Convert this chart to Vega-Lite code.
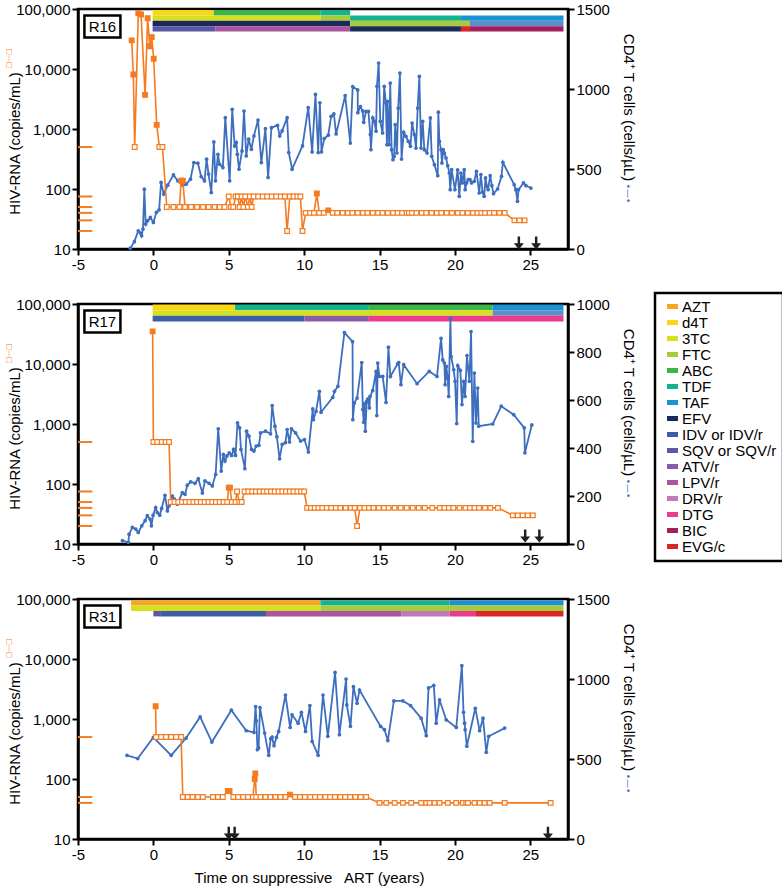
{
"$schema":"https://vega.github.io/schema/vega-lite/v6.json",
"padding":{"left":2,"top":0,"right":5,"bottom":2},
"spacing":55,
"bounds":"flush",
"config":{"font":"Liberation Sans","view":{"stroke":"black","strokeWidth":2.5},
"axis":{"domainColor":"black","domainWidth":2.5,"tickColor":"black","tickWidth":2,"tickSize":6,"labelFont":"Liberation Sans","labelFontSize":15,"labelColor":"black","titleFont":"Liberation Sans","titleFontSize":15,"titleFontWeight":"normal","titleColor":"black","grid":false,"labelPadding":2,"labelOverlap":false},
"legend":{"strokeWidth":2.5}},
"datasets":{
"hiv16":[{"t":-1.44,"v":30000,"s":"F"},{"t":-1.33,"v":8100,"s":"F"},{"t":-1.24,"v":500,"s":"O"},{"t":-1.0,"v":85000,"s":"F"},{"t":-0.82,"v":81000,"s":"F"},{"t":-0.55,"v":3700,"s":"F"},{"t":-0.38,"v":70000,"s":"F"},{"t":-0.24,"v":24000,"s":"F"},{"t":-0.11,"v":34000,"s":"F"},{"t":0.02,"v":14800,"s":"F"},{"t":0.22,"v":1170,"s":"F"},{"t":0.4,"v":500,"s":"O"},{"t":0.6,"v":500,"s":"O"},{"t":0.89,"v":50,"s":"O"},{"t":1.33,"v":50,"s":"O"},{"t":1.73,"v":50,"s":"O"},{"t":1.84,"v":138,"s":"F"},{"t":1.95,"v":138,"s":"F"},{"t":2.1,"v":50,"s":"O"},{"t":2.5,"v":50,"s":"O"},{"t":2.9,"v":50,"s":"O"},{"t":3.3,"v":50,"s":"O"},{"t":3.66,"v":50,"s":"O"},{"t":4.06,"v":50,"s":"O"},{"t":4.4,"v":50,"s":"O"},{"t":4.72,"v":50,"s":"O"},{"t":5.0,"v":75,"s":"O"},{"t":5.15,"v":50,"s":"O"},{"t":5.3,"v":50,"s":"O"},{"t":5.45,"v":75,"s":"O"},{"t":5.6,"v":75,"s":"O"},{"t":5.72,"v":50,"s":"O"},{"t":5.85,"v":75,"s":"O"},{"t":5.97,"v":50,"s":"O"},{"t":6.1,"v":75,"s":"O"},{"t":6.27,"v":50,"s":"O"},{"t":6.4,"v":75,"s":"O"},{"t":6.52,"v":50,"s":"O"},{"t":6.65,"v":75,"s":"O"},{"t":6.95,"v":75,"s":"O"},{"t":7.25,"v":75,"s":"O"},{"t":7.55,"v":75,"s":"O"},{"t":7.85,"v":75,"s":"O"},{"t":8.15,"v":75,"s":"O"},{"t":8.45,"v":75,"s":"O"},{"t":8.72,"v":75,"s":"O"},{"t":8.87,"v":20,"s":"O"},{"t":9.05,"v":75,"s":"O"},{"t":9.3,"v":75,"s":"O"},{"t":9.55,"v":75,"s":"O"},{"t":9.75,"v":75,"s":"O"},{"t":9.89,"v":20,"s":"O"},{"t":10.1,"v":40,"s":"O"},{"t":10.4,"v":40,"s":"O"},{"t":10.65,"v":40,"s":"O"},{"t":10.84,"v":84,"s":"F"},{"t":11.0,"v":40,"s":"O"},{"t":11.3,"v":40,"s":"O"},{"t":11.6,"v":44,"s":"F"},{"t":11.9,"v":40,"s":"O"},{"t":12.2,"v":40,"s":"O"},{"t":12.55,"v":40,"s":"O"},{"t":12.9,"v":40,"s":"O"},{"t":13.2,"v":40,"s":"O"},{"t":13.55,"v":40,"s":"O"},{"t":13.9,"v":40,"s":"O"},{"t":14.2,"v":40,"s":"O"},{"t":14.55,"v":40,"s":"O"},{"t":14.9,"v":40,"s":"O"},{"t":15.2,"v":40,"s":"O"},{"t":15.55,"v":40,"s":"O"},{"t":15.9,"v":40,"s":"O"},{"t":16.2,"v":40,"s":"O"},{"t":16.5,"v":40,"s":"O"},{"t":16.8,"v":40,"s":"O"},{"t":16.95,"v":40,"s":"O"},{"t":17.15,"v":40,"s":"O"},{"t":17.45,"v":40,"s":"O"},{"t":17.8,"v":40,"s":"O"},{"t":18.1,"v":40,"s":"O"},{"t":18.45,"v":40,"s":"O"},{"t":18.8,"v":40,"s":"O"},{"t":19.1,"v":40,"s":"O"},{"t":19.45,"v":40,"s":"O"},{"t":19.8,"v":40,"s":"O"},{"t":20.2,"v":40,"s":"O"},{"t":20.5,"v":40,"s":"O"},{"t":20.85,"v":40,"s":"O"},{"t":21.2,"v":40,"s":"O"},{"t":21.5,"v":40,"s":"O"},{"t":21.75,"v":40,"s":"O"},{"t":22.0,"v":40,"s":"O"},{"t":22.3,"v":40,"s":"O"},{"t":22.6,"v":40,"s":"O"},{"t":22.95,"v":40,"s":"O"},{"t":23.3,"v":40,"s":"O"},{"t":23.95,"v":30,"s":"O"},{"t":24.28,"v":30,"s":"O"},{"t":24.62,"v":30,"s":"O"}],
"cd416":[{"t":-1.53,"v":5},{"t":-1.26,"v":46},{"t":-1.0,"v":114},{"t":-0.86,"v":100},{"t":-0.78,"v":83},{"t":-0.69,"v":125},{"t":-0.6,"v":374},{"t":-0.51,"v":156},{"t":-0.38,"v":177},{"t":-0.2,"v":197},{"t":0.0,"v":166},{"t":0.2,"v":229},{"t":0.38,"v":245},{"t":0.51,"v":416},{"t":0.69,"v":343},{"t":0.95,"v":399},{"t":1.33,"v":463},{"t":1.62,"v":426},{"t":1.95,"v":399},{"t":2.17,"v":405},{"t":2.46,"v":436},{"t":2.68,"v":540},{"t":2.95,"v":536},{"t":3.17,"v":453},{"t":3.39,"v":426},{"t":3.53,"v":561},{"t":3.66,"v":468},{"t":3.84,"v":353},{"t":4.01,"v":669},{"t":4.12,"v":426},{"t":4.28,"v":592},{"t":4.39,"v":530},{"t":4.61,"v":509},{"t":4.77,"v":821},{"t":5.06,"v":426},{"t":5.23,"v":873},{"t":5.39,"v":644},{"t":5.5,"v":665},{"t":5.57,"v":592},{"t":5.68,"v":499},{"t":5.88,"v":613},{"t":6.01,"v":862},{"t":6.16,"v":582},{"t":6.32,"v":686},{"t":6.5,"v":623},{"t":6.67,"v":707},{"t":6.94,"v":806},{"t":7.16,"v":540},{"t":7.43,"v":752},{"t":7.61,"v":447},{"t":7.83,"v":758},{"t":8.23,"v":773},{"t":8.38,"v":707},{"t":8.54,"v":738},{"t":8.87,"v":821},{"t":8.98,"v":603},{"t":9.2,"v":499},{"t":9.89,"v":644},{"t":10.27,"v":883},{"t":10.53,"v":607},{"t":10.75,"v":966},{"t":10.93,"v":603},{"t":11.04,"v":914},{"t":11.15,"v":607},{"t":11.33,"v":690},{"t":11.6,"v":711},{"t":11.79,"v":829},{"t":11.97,"v":844},{"t":12.12,"v":719},{"t":12.72,"v":958},{"t":13.06,"v":662},{"t":13.22,"v":1015},{"t":13.55,"v":994},{"t":13.56,"v":852},{"t":13.73,"v":890},{"t":13.88,"v":863},{"t":13.95,"v":792},{"t":14.1,"v":860},{"t":14.26,"v":860},{"t":14.39,"v":715},{"t":14.43,"v":621},{"t":14.55,"v":819},{"t":14.66,"v":798},{"t":14.77,"v":736},{"t":14.83,"v":1017},{"t":14.94,"v":1162},{"t":15.05,"v":798},{"t":15.2,"v":725},{"t":15.31,"v":1017},{"t":15.42,"v":913},{"t":15.49,"v":652},{"t":15.53,"v":923},{"t":15.64,"v":652},{"t":15.71,"v":1037},{"t":15.8,"v":621},{"t":15.89,"v":558},{"t":15.97,"v":579},{"t":16.04,"v":777},{"t":16.15,"v":600},{"t":16.24,"v":881},{"t":16.35,"v":1100},{"t":16.46,"v":562},{"t":16.6,"v":729},{"t":16.75,"v":704},{"t":16.91,"v":673},{"t":17.05,"v":642},{"t":17.16,"v":787},{"t":17.31,"v":715},{"t":17.42,"v":631},{"t":17.53,"v":881},{"t":17.64,"v":1079},{"t":17.75,"v":631},{"t":17.86,"v":798},{"t":17.97,"v":621},{"t":18.15,"v":600},{"t":18.37,"v":819},{"t":18.46,"v":579},{"t":18.64,"v":527},{"t":18.86,"v":458},{"t":18.9,"v":855},{"t":18.97,"v":673},{"t":19.08,"v":621},{"t":19.14,"v":537},{"t":19.23,"v":621},{"t":19.3,"v":600},{"t":19.41,"v":569},{"t":19.52,"v":521},{"t":19.63,"v":475},{"t":19.69,"v":371},{"t":19.78,"v":496},{"t":20.0,"v":371},{"t":20.18,"v":494},{"t":20.29,"v":329},{"t":20.4,"v":475},{"t":20.5,"v":413},{"t":20.62,"v":496},{"t":20.68,"v":371},{"t":20.77,"v":413},{"t":20.88,"v":433},{"t":21.0,"v":433},{"t":21.1,"v":413},{"t":21.28,"v":423},{"t":21.43,"v":485},{"t":21.61,"v":350},{"t":21.72,"v":465},{"t":21.83,"v":356},{"t":21.94,"v":329},{"t":22.03,"v":444},{"t":22.12,"v":392},{"t":22.2,"v":371},{"t":22.34,"v":458},{"t":22.45,"v":396},{"t":22.56,"v":346},{"t":22.83,"v":375},{"t":23.09,"v":454},{"t":23.18,"v":542},{"t":23.93,"v":402},{"t":24.04,"v":371},{"t":24.15,"v":298},{"t":24.22,"v":371},{"t":24.55,"v":413},{"t":24.71,"v":396},{"t":25.04,"v":381}],
"bars16":[{"r":1,"a":-0.05,"b":4,"d":"d4T"},{"r":1,"a":4,"b":11.1,"d":"ABC"},{"r":1,"a":11.1,"b":13.05,"d":"TDF"},{"r":2,"a":-0.05,"b":11.1,"d":"3TC"},{"r":2,"a":11.1,"b":13.05,"d":"FTC"},{"r":2,"a":13.05,"b":20.4,"d":"TDF"},{"r":2,"a":20.4,"b":27.2,"d":"TAF"},{"r":3,"a":-0.05,"b":13.05,"d":"EFV"},{"r":3,"a":13.05,"b":21.0,"d":"FTC"},{"r":3,"a":21.0,"b":27.2,"d":"FTC/TAF"},{"r":4,"a":-0.05,"b":4.1,"d":"SQV or SQV/r"},{"r":4,"a":4.1,"b":13.05,"d":"LPV/r"},{"r":4,"a":13.05,"b":20.4,"d":"EFV"},{"r":4,"a":20.4,"b":21.0,"d":"EVG/c"},{"r":4,"a":21.0,"b":27.2,"d":"BIC"}],
"lim16":[{"v":500},{"v":75},{"v":50},{"v":40},{"v":30},{"v":20}],
"arr16":[{"t":24.24},{"t":25.39}],
"hiv17":[{"t":-0.05,"v":35000,"s":"F"},{"t":0.0,"v":500,"s":"O"},{"t":0.26,"v":500,"s":"O"},{"t":0.55,"v":500,"s":"O"},{"t":0.82,"v":500,"s":"O"},{"t":1.04,"v":500,"s":"O"},{"t":1.15,"v":50,"s":"O"},{"t":1.4,"v":50,"s":"O"},{"t":1.65,"v":50,"s":"O"},{"t":1.9,"v":50,"s":"O"},{"t":2.15,"v":50,"s":"O"},{"t":2.4,"v":50,"s":"O"},{"t":2.65,"v":50,"s":"O"},{"t":2.9,"v":50,"s":"O"},{"t":3.15,"v":50,"s":"O"},{"t":3.4,"v":50,"s":"O"},{"t":3.65,"v":50,"s":"O"},{"t":3.9,"v":50,"s":"O"},{"t":4.15,"v":50,"s":"O"},{"t":4.4,"v":50,"s":"O"},{"t":4.65,"v":50,"s":"O"},{"t":4.9,"v":50,"s":"O"},{"t":5.0,"v":87,"s":"F"},{"t":5.08,"v":87,"s":"F"},{"t":5.2,"v":50,"s":"O"},{"t":5.45,"v":50,"s":"O"},{"t":5.55,"v":75,"s":"O"},{"t":5.7,"v":50,"s":"O"},{"t":5.85,"v":50,"s":"O"},{"t":6.05,"v":75,"s":"O"},{"t":6.3,"v":75,"s":"O"},{"t":6.55,"v":75,"s":"O"},{"t":6.8,"v":75,"s":"O"},{"t":7.05,"v":75,"s":"O"},{"t":7.3,"v":75,"s":"O"},{"t":7.55,"v":75,"s":"O"},{"t":7.8,"v":75,"s":"O"},{"t":8.05,"v":75,"s":"O"},{"t":8.3,"v":75,"s":"O"},{"t":8.55,"v":75,"s":"O"},{"t":8.8,"v":75,"s":"O"},{"t":9.05,"v":75,"s":"O"},{"t":9.3,"v":75,"s":"O"},{"t":9.55,"v":75,"s":"O"},{"t":9.8,"v":75,"s":"O"},{"t":10.0,"v":75,"s":"O"},{"t":10.2,"v":40,"s":"O"},{"t":10.45,"v":40,"s":"O"},{"t":10.7,"v":40,"s":"O"},{"t":10.95,"v":40,"s":"O"},{"t":11.2,"v":40,"s":"O"},{"t":11.5,"v":40,"s":"O"},{"t":11.8,"v":40,"s":"O"},{"t":12.1,"v":40,"s":"O"},{"t":12.4,"v":40,"s":"O"},{"t":12.75,"v":40,"s":"O"},{"t":13.1,"v":40,"s":"O"},{"t":13.35,"v":40,"s":"O"},{"t":13.51,"v":20,"s":"O"},{"t":13.7,"v":40,"s":"O"},{"t":14.0,"v":40,"s":"O"},{"t":14.3,"v":40,"s":"O"},{"t":14.6,"v":40,"s":"O"},{"t":14.95,"v":40,"s":"O"},{"t":15.3,"v":40,"s":"O"},{"t":15.6,"v":40,"s":"O"},{"t":16.0,"v":40,"s":"O"},{"t":16.4,"v":40,"s":"O"},{"t":16.8,"v":40,"s":"O"},{"t":17.2,"v":40,"s":"O"},{"t":17.6,"v":40,"s":"O"},{"t":18.0,"v":40,"s":"O"},{"t":18.5,"v":40,"s":"O"},{"t":19.0,"v":40,"s":"O"},{"t":19.3,"v":40,"s":"O"},{"t":19.6,"v":40,"s":"O"},{"t":19.9,"v":40,"s":"O"},{"t":20.3,"v":40,"s":"O"},{"t":20.7,"v":40,"s":"O"},{"t":21.0,"v":40,"s":"O"},{"t":21.3,"v":40,"s":"O"},{"t":21.6,"v":40,"s":"O"},{"t":22.0,"v":40,"s":"O"},{"t":22.35,"v":40,"s":"O"},{"t":22.85,"v":40,"s":"O"},{"t":23.84,"v":30,"s":"O"},{"t":24.17,"v":30,"s":"O"},{"t":24.5,"v":30,"s":"O"},{"t":24.83,"v":30,"s":"O"},{"t":25.17,"v":30,"s":"O"}],
"cd417":[{"t":-2.05,"v":14},{"t":-1.66,"v":7},{"t":-1.61,"v":41},{"t":-1.39,"v":69},{"t":-1.17,"v":62},{"t":-1.0,"v":48},{"t":-0.77,"v":76},{"t":-0.55,"v":97},{"t":-0.4,"v":118},{"t":-0.22,"v":104},{"t":-0.13,"v":76},{"t":-0.02,"v":120},{"t":0.15,"v":152},{"t":0.26,"v":131},{"t":0.42,"v":120},{"t":0.55,"v":148},{"t":0.77,"v":203},{"t":0.93,"v":138},{"t":1.04,"v":159},{"t":1.26,"v":200},{"t":1.39,"v":187},{"t":1.59,"v":166},{"t":1.92,"v":214},{"t":2.1,"v":207},{"t":2.25,"v":245},{"t":2.47,"v":259},{"t":2.76,"v":253},{"t":2.98,"v":272},{"t":3.25,"v":212},{"t":3.42,"v":263},{"t":3.69,"v":253},{"t":3.91,"v":242},{"t":4.13,"v":290},{"t":4.3,"v":480},{"t":4.5,"v":304},{"t":4.64,"v":373},{"t":4.75,"v":346},{"t":4.88,"v":367},{"t":5.03,"v":380},{"t":5.19,"v":369},{"t":5.32,"v":394},{"t":5.45,"v":369},{"t":5.58,"v":505},{"t":5.72,"v":484},{"t":5.81,"v":394},{"t":6.07,"v":314},{"t":6.18,"v":470},{"t":6.34,"v":449},{"t":6.51,"v":394},{"t":6.67,"v":387},{"t":6.82,"v":408},{"t":7.0,"v":411},{"t":7.11,"v":463},{"t":7.44,"v":470},{"t":7.77,"v":459},{"t":7.88,"v":577},{"t":8.06,"v":491},{"t":8.19,"v":447},{"t":8.37,"v":355},{"t":8.54,"v":415},{"t":8.76,"v":422},{"t":8.87,"v":477},{"t":9.03,"v":425},{"t":9.16,"v":480},{"t":9.43,"v":463},{"t":9.76,"v":429},{"t":10.02,"v":435},{"t":10.28,"v":383},{"t":10.57,"v":563},{"t":10.61,"v":518},{"t":10.79,"v":553},{"t":11.01,"v":636},{"t":11.12,"v":549},{"t":11.9,"v":611},{"t":12.01,"v":636},{"t":12.24,"v":657},{"t":12.67,"v":881},{"t":13.21,"v":843},{"t":13.23,"v":518},{"t":13.33,"v":588},{"t":13.51,"v":608},{"t":13.82,"v":756},{"t":13.89,"v":560},{"t":13.95,"v":507},{"t":14.0,"v":585},{"t":14.06,"v":470},{"t":14.15,"v":595},{"t":14.22,"v":604},{"t":14.33,"v":567},{"t":14.37,"v":615},{"t":14.55,"v":640},{"t":14.77,"v":719},{"t":14.82,"v":535},{"t":14.88,"v":754},{"t":14.99,"v":698},{"t":15.21,"v":698},{"t":15.43,"v":590},{"t":15.59,"v":820},{"t":15.72,"v":698},{"t":16.2,"v":751},{"t":16.27,"v":756},{"t":16.42,"v":664},{"t":16.6,"v":747},{"t":17.49,"v":668},{"t":18.3,"v":719},{"t":18.81,"v":698},{"t":19.08,"v":857},{"t":19.19,"v":767},{"t":19.3,"v":754},{"t":19.35,"v":664},{"t":19.43,"v":740},{"t":19.52,"v":691},{"t":19.59,"v":615},{"t":19.7,"v":940},{"t":19.75,"v":781},{"t":19.92,"v":726},{"t":20.01,"v":678},{"t":20.12,"v":502},{"t":20.19,"v":743},{"t":20.36,"v":723},{"t":20.47,"v":581},{"t":20.58,"v":678},{"t":20.67,"v":615},{"t":20.8,"v":785},{"t":20.96,"v":678},{"t":21.07,"v":885},{"t":21.18,"v":428},{"t":21.29,"v":712},{"t":21.4,"v":504},{"t":21.51,"v":650},{"t":21.58,"v":491},{"t":22.51,"v":500},{"t":23.07,"v":574},{"t":23.9,"v":539},{"t":24.6,"v":484},{"t":24.64,"v":380},{"t":25.1,"v":496}],
"bars17":[{"r":1,"a":-0.05,"b":5.42,"d":"d4T"},{"r":1,"a":5.42,"b":14.29,"d":"TDF"},{"r":1,"a":14.29,"b":22.5,"d":"ABC"},{"r":1,"a":22.5,"b":27.2,"d":"TAF"},{"r":2,"a":-0.05,"b":22.5,"d":"3TC"},{"r":2,"a":22.5,"b":27.2,"d":"FTC/TAF"},{"r":3,"a":-0.05,"b":10.02,"d":"IDV or IDV/r"},{"r":3,"a":10.02,"b":14.29,"d":"ATV/r"},{"r":3,"a":14.29,"b":27.2,"d":"DTG"}],
"lim17":[{"v":500},{"v":75},{"v":50},{"v":40},{"v":30},{"v":20}],
"arr17":[{"t":24.66},{"t":25.6}],
"hiv31":[{"t":0.15,"v":1630,"s":"F"},{"t":0.18,"v":500,"s":"O"},{"t":0.51,"v":500,"s":"O"},{"t":0.84,"v":500,"s":"O"},{"t":1.18,"v":500,"s":"O"},{"t":1.51,"v":500,"s":"O"},{"t":1.84,"v":500,"s":"O"},{"t":1.95,"v":50,"s":"O"},{"t":2.28,"v":50,"s":"O"},{"t":2.6,"v":50,"s":"O"},{"t":2.95,"v":50,"s":"O"},{"t":3.28,"v":50,"s":"O"},{"t":3.95,"v":50,"s":"O"},{"t":4.28,"v":50,"s":"O"},{"t":4.6,"v":50,"s":"O"},{"t":4.94,"v":63,"s":"F"},{"t":5.05,"v":63,"s":"F"},{"t":5.3,"v":50,"s":"O"},{"t":5.62,"v":50,"s":"O"},{"t":5.95,"v":50,"s":"O"},{"t":6.28,"v":50,"s":"O"},{"t":6.6,"v":50,"s":"O"},{"t":6.72,"v":100,"s":"F"},{"t":6.76,"v":124,"s":"F"},{"t":6.82,"v":50,"s":"O"},{"t":7.1,"v":50,"s":"O"},{"t":7.43,"v":50,"s":"O"},{"t":7.76,"v":50,"s":"O"},{"t":8.1,"v":50,"s":"O"},{"t":8.43,"v":50,"s":"O"},{"t":8.76,"v":50,"s":"O"},{"t":9.05,"v":55,"s":"F"},{"t":9.4,"v":50,"s":"O"},{"t":9.72,"v":50,"s":"O"},{"t":10.05,"v":50,"s":"O"},{"t":10.4,"v":50,"s":"O"},{"t":10.72,"v":50,"s":"O"},{"t":11.05,"v":50,"s":"O"},{"t":11.4,"v":50,"s":"O"},{"t":11.72,"v":50,"s":"O"},{"t":12.05,"v":50,"s":"O"},{"t":12.4,"v":50,"s":"O"},{"t":12.72,"v":50,"s":"O"},{"t":13.05,"v":50,"s":"O"},{"t":13.4,"v":50,"s":"O"},{"t":13.75,"v":50,"s":"O"},{"t":14.11,"v":50,"s":"O"},{"t":15.0,"v":40,"s":"O"},{"t":15.45,"v":40,"s":"O"},{"t":16.0,"v":40,"s":"O"},{"t":16.55,"v":40,"s":"O"},{"t":17.1,"v":40,"s":"O"},{"t":17.76,"v":40,"s":"O"},{"t":18.1,"v":40,"s":"O"},{"t":18.32,"v":40,"s":"O"},{"t":18.65,"v":40,"s":"O"},{"t":18.98,"v":40,"s":"O"},{"t":19.53,"v":40,"s":"O"},{"t":20.09,"v":40,"s":"O"},{"t":20.53,"v":40,"s":"O"},{"t":20.75,"v":40,"s":"O"},{"t":20.86,"v":40,"s":"O"},{"t":21.3,"v":40,"s":"O"},{"t":21.64,"v":40,"s":"O"},{"t":21.97,"v":40,"s":"O"},{"t":22.3,"v":40,"s":"O"},{"t":23.3,"v":40,"s":"O"},{"t":26.35,"v":40,"s":"O"}],
"cd431":[{"t":-1.75,"v":523},{"t":-1.04,"v":503},{"t":0.0,"v":635},{"t":1.18,"v":523},{"t":2.17,"v":631},{"t":3.1,"v":763},{"t":3.88,"v":606},{"t":5.17,"v":805},{"t":6.16,"v":677},{"t":6.67,"v":666},{"t":6.78,"v":828},{"t":6.83,"v":739},{"t":6.9,"v":559},{"t":6.98,"v":569},{"t":7.07,"v":821},{"t":7.38,"v":662},{"t":7.65,"v":523},{"t":7.78,"v":627},{"t":7.87,"v":637},{"t":8.0,"v":583},{"t":8.16,"v":635},{"t":8.31,"v":672},{"t":8.76,"v":900},{"t":9.07,"v":697},{"t":9.2,"v":776},{"t":9.6,"v":724},{"t":9.82,"v":792},{"t":10.09,"v":672},{"t":10.38,"v":834},{"t":10.53,"v":610},{"t":10.93,"v":523},{"t":11.25,"v":900},{"t":11.57,"v":642},{"t":12.05,"v":1041},{"t":12.34,"v":652},{"t":12.78,"v":1000},{"t":12.83,"v":838},{"t":13.07,"v":704},{"t":13.27,"v":952},{"t":13.51,"v":848},{"t":13.67,"v":931},{"t":15.07,"v":704},{"t":15.33,"v":683},{"t":15.55,"v":615},{"t":15.95,"v":863},{"t":16.55,"v":863},{"t":17.06,"v":834},{"t":17.76,"v":755},{"t":18.1,"v":646},{"t":18.25,"v":944},{"t":18.6,"v":960},{"t":18.76,"v":724},{"t":18.98,"v":869},{"t":19.42,"v":745},{"t":20.09,"v":697},{"t":20.46,"v":1083},{"t":20.57,"v":792},{"t":20.64,"v":724},{"t":20.68,"v":683},{"t":20.79,"v":580},{"t":21.35,"v":817},{"t":21.64,"v":677},{"t":21.86,"v":755},{"t":22.08,"v":542},{"t":22.24,"v":642},{"t":23.3,"v":693}],
"bars31":[{"r":1,"a":-1.48,"b":11.08,"d":"AZT"},{"r":1,"a":11.08,"b":19.64,"d":"TDF"},{"r":1,"a":19.64,"b":27.2,"d":"TAF"},{"r":2,"a":-1.48,"b":11.08,"d":"3TC"},{"r":2,"a":11.08,"b":27.2,"d":"FTC"},{"r":3,"a":0.0,"b":0.5,"d":"SQV or SQV/r"},{"r":3,"a":0.5,"b":7.47,"d":"IDV or IDV/r"},{"r":3,"a":7.47,"b":16.43,"d":"LPV/r"},{"r":3,"a":16.43,"b":19.64,"d":"DRV/r"},{"r":3,"a":19.64,"b":21.4,"d":"DTG"},{"r":3,"a":21.4,"b":27.2,"d":"EVG/c"}],
"lim31":[{"v":500},{"v":50},{"v":40}],
"arr31":[{"t":5.0},{"t":5.39},{"t":26.17}]
},
"vconcat":[
{"width":490,"height":240,"resolve":{"scale":{"y":"independent"}},
"layer":[
{"data":{"name":"bars16"},"mark":{"type":"rect"},"encoding":{
"x":{"field":"a","type":"quantitative","scale":{"domain":[-5,27.5],"nice":false,"zero":false},"axis":{"values":[-5,0,5,10,15,20,25],"labelExpr":"''+datum.value","labelFlush":false,"title":null}},
"x2":{"field":"b"},
"y":{"field":"r","type":"ordinal","scale":{"domain":[1,2,3,4],"range":[1,22.6],"paddingInner":0,"paddingOuter":0},"axis":null},
"color":{"field":"d","type":"nominal","scale":{"domain":["AZT","d4T","3TC","FTC","ABC","TDF","TAF","EFV","IDV or IDV/r","SQV or SQV/r","ATV/r","LPV/r","DRV/r","DTG","BIC","EVG/c","FTC/TAF"],"range":["#f6a623","#f9d616","#d5e01f","#a6cb3b","#3db54a","#12b38e","#1b93d2","#1b2a59","#3c5daa","#5a58a7","#8a5ca8","#a9559f","#c07ab7","#ec3a8e","#a11f5b","#da2628","#5d8dcc"]},
"legend":{"orient":"none","legendX":577,"legendY":284,"title":null,"values":["AZT","d4T","3TC","FTC","ABC","TDF","TAF","EFV","IDV or IDV/r","SQV or SQV/r","ATV/r","LPV/r","DRV/r","DTG","BIC","EVG/c"],"symbolType":"M-1,-0.45H1V0.45H-1Z","symbolSize":121,"symbolStrokeWidth":0,"symbolOffset":4,"labelFontSize":15,"labelFont":"Liberation Sans","labelColor":"black","strokeColor":"black","fillColor":"white","padding":6,"rowPadding":-1,"labelOffset":2}}}},
{"layer":[
{"data":{"name":"cd416"},"mark":{"type":"line","color":"#3d6ebf","strokeWidth":1.8},"encoding":{
"x":{"field":"t","type":"quantitative","scale":{"domain":[-5,27.5],"nice":false,"zero":false},"axis":{"values":[-5,0,5,10,15,20,25],"labelExpr":"''+datum.value","labelFlush":false,"title":null}},
"y":{"field":"v","type":"quantitative","scale":{"domain":[0,1500],"nice":false},"axis":{"orient":"right","values":[0,500,1000,1500],"format":"d","title":"CD4⁺ T cells (cells/µL)","titleAngle":90,"titleX":60,"titleY":98,"titleAlign":"center","titleBaseline":"middle"}}}},
{"data":{"name":"cd416"},"mark":{"type":"circle","color":"#3d6ebf","size":14,"opacity":1},"encoding":{
"x":{"field":"t","type":"quantitative"},
"y":{"field":"v","type":"quantitative"}}}
]},
{"data":{"name":"arr16"},"mark":{"type":"point","shape":"M-0.19,-1H0.19V0.05H0.77L0,1L-0.77,0.05H-0.19Z","size":169,"filled":true,"color":"#231f20","opacity":1},"encoding":{
"x":{"field":"t","type":"quantitative"},
"y":{"datum":38,"type":"quantitative","scale":{"domain":[0,1500],"nice":false},"axis":{"orient":"right","domain":false,"ticks":false,"labels":false,"title":"•—•","titleColor":"#3d6ebf","titleFont":"DejaVu Sans","titleFontSize":9,"titleAngle":90,"titleX":59,"titleY":184,"titleAlign":"center","titleBaseline":"middle"}}}},
{"data":{"name":"lim16"},"mark":{"type":"rule","color":"#f47b20","strokeWidth":2},"encoding":{
"x":{"datum":-5,"type":"quantitative"},"x2":{"datum":-4.05},
"y":{"field":"v","type":"quantitative","scale":{"type":"log","domain":[10,100000],"nice":false},"axis":{"orient":"left","domain":false,"ticks":false,"labels":false,"title":"□—□","titleColor":"#f47b20","titleFont":"DejaVu Sans","titleFontSize":7,"titleAngle":270,"titleX":-70,"titleY":49,"titleAlign":"center","titleBaseline":"middle"}}}},
{"layer":[
{"data":{"name":"hiv16"},"mark":{"type":"line","color":"#f47b20","strokeWidth":1.6},"encoding":{
"x":{"field":"t","type":"quantitative"},
"y":{"field":"v","type":"quantitative","scale":{"type":"log","domain":[10,100000],"nice":false},"axis":{"orient":"left","values":[10,100,1000,10000,100000],"format":",","title":"HIV-RNA (copies/mL)","titleAngle":270,"titleX":-64,"titleY":134,"titleAlign":"center","titleBaseline":"middle"}}}},
{"data":{"name":"hiv16"},"mark":{"type":"point","shape":"square","size":22,"filled":true,"stroke":"#f47b20","strokeWidth":1.2,"opacity":1},"encoding":{
"x":{"field":"t","type":"quantitative"},
"y":{"field":"v","type":"quantitative"},
"fill":{"field":"s","type":"nominal","scale":{"domain":["F","O"],"range":["#f47b20","#ffffff"]},"legend":null}}},
{"data":{"values":[{"p":"R16"}]},"mark":{"type":"point","shape":"M-1,-0.61H1V0.61H-1Z","size":1296,"filled":true,"fill":"white","stroke":"black","strokeWidth":2.5,"opacity":1},"encoding":{"x":{"datum":-3.38,"type":"quantitative"},"y":{"datum":51000,"type":"quantitative"}}},
{"data":{"values":[{"p":"R16"}]},"mark":{"type":"text","fontSize":15,"baseline":"middle","align":"center","color":"black"},"encoding":{"x":{"datum":-3.38,"type":"quantitative"},"y":{"datum":51000,"type":"quantitative"},"text":{"field":"p"}}}
]}
]},
{"width":490,"height":240,"resolve":{"scale":{"y":"independent"}},
"layer":[
{"data":{"name":"bars17"},"mark":{"type":"rect"},"encoding":{
"x":{"field":"a","type":"quantitative","scale":{"domain":[-5,27.5],"nice":false,"zero":false},"axis":{"values":[-5,0,5,10,15,20,25],"labelExpr":"''+datum.value","labelFlush":false,"title":null}},
"x2":{"field":"b"},
"y":{"field":"r","type":"ordinal","scale":{"domain":[1,2,3],"range":[0.5,17.5],"paddingInner":0,"paddingOuter":0},"axis":null},
"color":{"field":"d","type":"nominal","scale":{"domain":["AZT","d4T","3TC","FTC","ABC","TDF","TAF","EFV","IDV or IDV/r","SQV or SQV/r","ATV/r","LPV/r","DRV/r","DTG","BIC","EVG/c","FTC/TAF"],"range":["#f6a623","#f9d616","#d5e01f","#a6cb3b","#3db54a","#12b38e","#1b93d2","#1b2a59","#3c5daa","#5a58a7","#8a5ca8","#a9559f","#c07ab7","#ec3a8e","#a11f5b","#da2628","#5d8dcc"]},
"legend":{"orient":"none","legendX":577,"legendY":284,"title":null,"values":["AZT","d4T","3TC","FTC","ABC","TDF","TAF","EFV","IDV or IDV/r","SQV or SQV/r","ATV/r","LPV/r","DRV/r","DTG","BIC","EVG/c"],"symbolType":"M-1,-0.45H1V0.45H-1Z","symbolSize":121,"symbolStrokeWidth":0,"symbolOffset":4,"labelFontSize":15,"labelFont":"Liberation Sans","labelColor":"black","strokeColor":"black","fillColor":"white","padding":6,"rowPadding":-1,"labelOffset":2}}}},
{"layer":[
{"data":{"name":"cd417"},"mark":{"type":"line","color":"#3d6ebf","strokeWidth":1.8},"encoding":{
"x":{"field":"t","type":"quantitative","scale":{"domain":[-5,27.5],"nice":false,"zero":false},"axis":{"values":[-5,0,5,10,15,20,25],"labelExpr":"''+datum.value","labelFlush":false,"title":null}},
"y":{"field":"v","type":"quantitative","scale":{"domain":[0,1000],"nice":false},"axis":{"orient":"right","values":[0,200,400,600,800,1000],"format":"d","title":"CD4⁺ T cells (cells/µL)","titleAngle":90,"titleX":60,"titleY":98,"titleAlign":"center","titleBaseline":"middle"}}}},
{"data":{"name":"cd417"},"mark":{"type":"circle","color":"#3d6ebf","size":14,"opacity":1},"encoding":{
"x":{"field":"t","type":"quantitative"},
"y":{"field":"v","type":"quantitative"}}}
]},
{"data":{"name":"arr17"},"mark":{"type":"point","shape":"M-0.19,-1H0.19V0.05H0.77L0,1L-0.77,0.05H-0.19Z","size":169,"filled":true,"color":"#231f20","opacity":1},"encoding":{
"x":{"field":"t","type":"quantitative"},
"y":{"datum":33,"type":"quantitative","scale":{"domain":[0,1000],"nice":false},"axis":{"orient":"right","domain":false,"ticks":false,"labels":false,"title":"•—•","titleColor":"#3d6ebf","titleFont":"DejaVu Sans","titleFontSize":9,"titleAngle":90,"titleX":59,"titleY":184,"titleAlign":"center","titleBaseline":"middle"}}}},
{"data":{"name":"lim17"},"mark":{"type":"rule","color":"#f47b20","strokeWidth":2},"encoding":{
"x":{"datum":-5,"type":"quantitative"},"x2":{"datum":-4.05},
"y":{"field":"v","type":"quantitative","scale":{"type":"log","domain":[10,100000],"nice":false},"axis":{"orient":"left","domain":false,"ticks":false,"labels":false,"title":"□—□","titleColor":"#f47b20","titleFont":"DejaVu Sans","titleFontSize":7,"titleAngle":270,"titleX":-70,"titleY":49,"titleAlign":"center","titleBaseline":"middle"}}}},
{"layer":[
{"data":{"name":"hiv17"},"mark":{"type":"line","color":"#f47b20","strokeWidth":1.6},"encoding":{
"x":{"field":"t","type":"quantitative"},
"y":{"field":"v","type":"quantitative","scale":{"type":"log","domain":[10,100000],"nice":false},"axis":{"orient":"left","values":[10,100,1000,10000,100000],"format":",","title":"HIV-RNA (copies/mL)","titleAngle":270,"titleX":-64,"titleY":134,"titleAlign":"center","titleBaseline":"middle"}}}},
{"data":{"name":"hiv17"},"mark":{"type":"point","shape":"square","size":22,"filled":true,"stroke":"#f47b20","strokeWidth":1.2,"opacity":1},"encoding":{
"x":{"field":"t","type":"quantitative"},
"y":{"field":"v","type":"quantitative"},
"fill":{"field":"s","type":"nominal","scale":{"domain":["F","O"],"range":["#f47b20","#ffffff"]},"legend":null}}},
{"data":{"values":[{"p":"R17"}]},"mark":{"type":"point","shape":"M-1,-0.61H1V0.61H-1Z","size":1296,"filled":true,"fill":"white","stroke":"black","strokeWidth":2.5,"opacity":1},"encoding":{"x":{"datum":-3.38,"type":"quantitative"},"y":{"datum":51000,"type":"quantitative"}}},
{"data":{"values":[{"p":"R17"}]},"mark":{"type":"text","fontSize":15,"baseline":"middle","align":"center","color":"black"},"encoding":{"x":{"datum":-3.38,"type":"quantitative"},"y":{"datum":51000,"type":"quantitative"},"text":{"field":"p"}}}
]}
]},
{"width":490,"height":240,"resolve":{"scale":{"y":"independent"}},
"layer":[
{"data":{"name":"bars31"},"mark":{"type":"rect"},"encoding":{
"x":{"field":"a","type":"quantitative","scale":{"domain":[-5,27.5],"nice":false,"zero":false},"axis":{"values":[-5,0,5,10,15,20,25],"labelExpr":"''+datum.value","labelFlush":false,"title":"Time on suppressive\u00a0\u00a0 ART (years)","titleX":231,"titleAlign":"center","titlePadding":8}},
"x2":{"field":"b"},
"y":{"field":"r","type":"ordinal","scale":{"domain":[1,2,3],"range":[1.2,17.4],"paddingInner":0,"paddingOuter":0},"axis":null},
"color":{"field":"d","type":"nominal","scale":{"domain":["AZT","d4T","3TC","FTC","ABC","TDF","TAF","EFV","IDV or IDV/r","SQV or SQV/r","ATV/r","LPV/r","DRV/r","DTG","BIC","EVG/c","FTC/TAF"],"range":["#f6a623","#f9d616","#d5e01f","#a6cb3b","#3db54a","#12b38e","#1b93d2","#1b2a59","#3c5daa","#5a58a7","#8a5ca8","#a9559f","#c07ab7","#ec3a8e","#a11f5b","#da2628","#5d8dcc"]},
"legend":{"orient":"none","legendX":577,"legendY":284,"title":null,"values":["AZT","d4T","3TC","FTC","ABC","TDF","TAF","EFV","IDV or IDV/r","SQV or SQV/r","ATV/r","LPV/r","DRV/r","DTG","BIC","EVG/c"],"symbolType":"M-1,-0.45H1V0.45H-1Z","symbolSize":121,"symbolStrokeWidth":0,"symbolOffset":4,"labelFontSize":15,"labelFont":"Liberation Sans","labelColor":"black","strokeColor":"black","fillColor":"white","padding":6,"rowPadding":-1,"labelOffset":2}}}},
{"layer":[
{"data":{"name":"cd431"},"mark":{"type":"line","color":"#3d6ebf","strokeWidth":1.8},"encoding":{
"x":{"field":"t","type":"quantitative","scale":{"domain":[-5,27.5],"nice":false,"zero":false},"axis":{"values":[-5,0,5,10,15,20,25],"labelExpr":"''+datum.value","labelFlush":false,"title":"Time on suppressive\u00a0\u00a0 ART (years)","titleX":231,"titleAlign":"center","titlePadding":8}},
"y":{"field":"v","type":"quantitative","scale":{"domain":[0,1500],"nice":false},"axis":{"orient":"right","values":[0,500,1000,1500],"format":"d","title":"CD4⁺ T cells (cells/µL)","titleAngle":90,"titleX":60,"titleY":98,"titleAlign":"center","titleBaseline":"middle"}}}},
{"data":{"name":"cd431"},"mark":{"type":"circle","color":"#3d6ebf","size":14,"opacity":1},"encoding":{
"x":{"field":"t","type":"quantitative"},
"y":{"field":"v","type":"quantitative"}}}
]},
{"data":{"name":"arr31"},"mark":{"type":"point","shape":"M-0.19,-1H0.19V0.05H0.77L0,1L-0.77,0.05H-0.19Z","size":169,"filled":true,"color":"#231f20","opacity":1},"encoding":{
"x":{"field":"t","type":"quantitative"},
"y":{"datum":36,"type":"quantitative","scale":{"domain":[0,1500],"nice":false},"axis":{"orient":"right","domain":false,"ticks":false,"labels":false,"title":"•—•","titleColor":"#3d6ebf","titleFont":"DejaVu Sans","titleFontSize":9,"titleAngle":90,"titleX":59,"titleY":184,"titleAlign":"center","titleBaseline":"middle"}}}},
{"data":{"name":"lim31"},"mark":{"type":"rule","color":"#f47b20","strokeWidth":2},"encoding":{
"x":{"datum":-5,"type":"quantitative"},"x2":{"datum":-4.05},
"y":{"field":"v","type":"quantitative","scale":{"type":"log","domain":[10,100000],"nice":false},"axis":{"orient":"left","domain":false,"ticks":false,"labels":false,"title":"□—□","titleColor":"#f47b20","titleFont":"DejaVu Sans","titleFontSize":7,"titleAngle":270,"titleX":-70,"titleY":49,"titleAlign":"center","titleBaseline":"middle"}}}},
{"layer":[
{"data":{"name":"hiv31"},"mark":{"type":"line","color":"#f47b20","strokeWidth":1.6},"encoding":{
"x":{"field":"t","type":"quantitative"},
"y":{"field":"v","type":"quantitative","scale":{"type":"log","domain":[10,100000],"nice":false},"axis":{"orient":"left","values":[10,100,1000,10000,100000],"format":",","title":"HIV-RNA (copies/mL)","titleAngle":270,"titleX":-64,"titleY":134,"titleAlign":"center","titleBaseline":"middle"}}}},
{"data":{"name":"hiv31"},"mark":{"type":"point","shape":"square","size":22,"filled":true,"stroke":"#f47b20","strokeWidth":1.2,"opacity":1},"encoding":{
"x":{"field":"t","type":"quantitative"},
"y":{"field":"v","type":"quantitative"},
"fill":{"field":"s","type":"nominal","scale":{"domain":["F","O"],"range":["#f47b20","#ffffff"]},"legend":null}}},
{"data":{"values":[{"p":"R31"}]},"mark":{"type":"point","shape":"M-1,-0.61H1V0.61H-1Z","size":1296,"filled":true,"fill":"white","stroke":"black","strokeWidth":2.5,"opacity":1},"encoding":{"x":{"datum":-3.38,"type":"quantitative"},"y":{"datum":51000,"type":"quantitative"}}},
{"data":{"values":[{"p":"R31"}]},"mark":{"type":"text","fontSize":15,"baseline":"middle","align":"center","color":"black"},"encoding":{"x":{"datum":-3.38,"type":"quantitative"},"y":{"datum":51000,"type":"quantitative"},"text":{"field":"p"}}}
]}
]}
]
}
